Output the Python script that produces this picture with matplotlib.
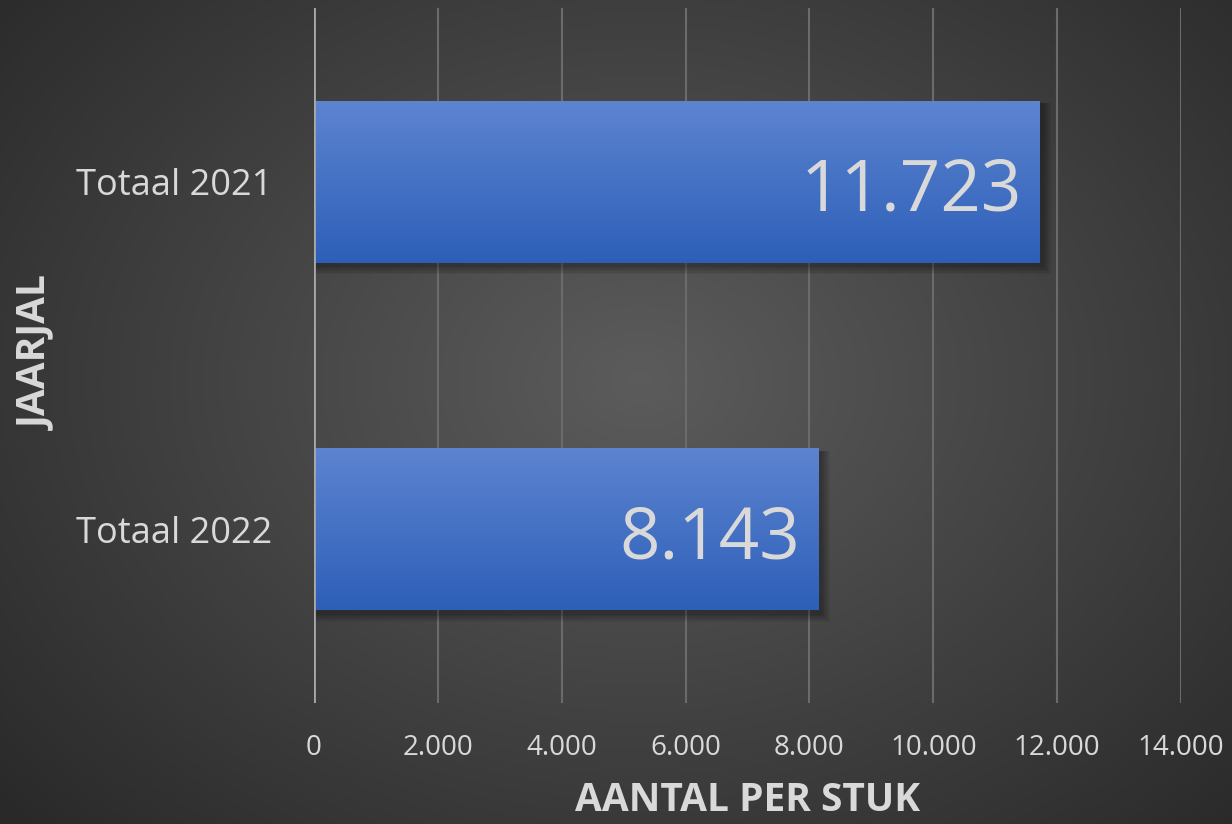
import matplotlib
matplotlib.use("Agg")
import matplotlib.pyplot as plt
import numpy as np
from matplotlib.patches import Rectangle

categories = ["Totaal 2021", "Totaal 2022"]
values = [11723, 8143]
xticks = [0, 2000, 4000, 6000, 8000, 10000, 12000, 14000]
xtick_labels = ["0", "2.000", "4.000", "6.000", "8.000", "10.000", "12.000", "14.000"]

plt.rcParams["font.family"] = ["Open Sans", "DejaVu Sans"]
text_color = "#d9d9d9"

fig = plt.figure(figsize=(12.32, 8.24), dpi=100)

# radial gradient backdrop
bg = fig.add_axes([0, 0, 1, 1])
yy, xx = np.mgrid[0:824, 0:1232]
r = np.sqrt(((xx - 640) / 820.0) ** 2 + ((yy - 380) / 620.0) ** 2)
shade = np.clip(0.36 - 0.19 * r, 0.16, 0.36)
bg.imshow(np.dstack([shade, shade, shade]), aspect="auto", extent=[0, 1, 0, 1])
bg.set_axis_off()

ax = fig.add_axes([0.2549, 0.1468, 0.7037, 0.8435])
ax.patch.set_alpha(0)
ypos = np.arange(len(categories))
bar_h = 0.467

ax.set_xlim(0, 14000)
ax.set_ylim(len(categories) - 0.5, -0.5)

for x in xticks[1:]:
    ax.axvline(x, color="#6b6b6b", lw=1.5, zorder=1)
ax.axvline(0, color="#a8a8a8", lw=2, zorder=4)

grad = np.linspace(0, 1, 256)[:, None]
top = np.array([0.365, 0.518, 0.816])
bottom = np.array([0.176, 0.373, 0.722])
bar_img = (top[None, None, :] * (1 - grad[..., None]) + bottom[None, None, :] * grad[..., None])

for y, v in zip(ypos, values):
    # soft drop shadow
    for k in range(6):
        off = 60 + k * 25
        ax.add_patch(Rectangle((0, y - bar_h / 2 + 0.008), v + off, bar_h + 0.004 + k * 0.004,
                               facecolor="black", alpha=0.06, lw=0, zorder=2))
    rect = Rectangle((0, y - bar_h / 2), v, bar_h, facecolor="none", lw=0, zorder=3)
    ax.add_patch(rect)
    im = ax.imshow(bar_img, aspect="auto", extent=[0, v, y + bar_h / 2, y - bar_h / 2], zorder=3)
    im.set_clip_path(rect)
    ax.text(v - 290, y + 0.03, f"{v:,}".replace(",", "."), ha="right", va="center",
            fontsize=51, color=text_color, zorder=5)

ax.set_xlim(0, 14000)
ax.set_ylim(len(categories) - 0.5, -0.5)
ax.set_xticks(xticks)
ax.set_xticklabels(xtick_labels)
ax.set_yticks(ypos)
ax.set_yticklabels(categories)
ax.tick_params(axis="x", length=0, pad=22, labelsize=20, labelcolor=text_color)
ax.tick_params(axis="y", length=0, pad=30, labelsize=26, labelcolor=text_color)
for s in ax.spines.values():
    s.set_visible(False)

ax.set_xlabel("AANTAL PER STUK", fontsize=28, fontweight="bold", color=text_color, labelpad=14)
fig.text(37 / 1232, 1 - 353 / 824, "JAARJAL", rotation=90, ha="center", va="center",
         fontsize=28, fontweight="bold", color=text_color)

fig.savefig("out.png", dpi=100)
